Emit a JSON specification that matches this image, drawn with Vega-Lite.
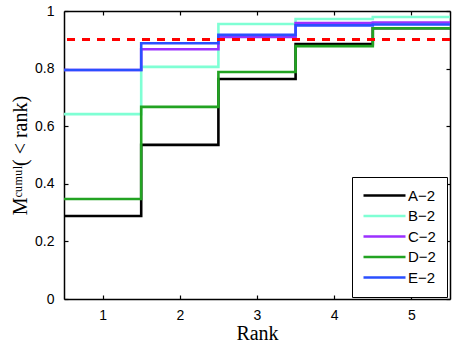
{
  "$schema": "https://vega.github.io/schema/vega-lite/v6.json",
  "autosize": {"type": "none"},
  "width": 386,
  "height": 288,
  "padding": {"left": 64, "top": 11, "right": 8, "bottom": 50},
  "background": "white",
  "config": {
    "view": {"stroke": null},
    "axis": {
      "labelFont": "Liberation Sans",
      "labelFontSize": 14,
      "labelColor": "black",
      "titleFont": "Liberation Serif",
      "titleFontSize": 20,
      "titleFontWeight": "normal",
      "titleColor": "black",
      "domainColor": "black",
      "domainWidth": 1.5,
      "tickColor": "black",
      "tickWidth": 1.2,
      "tickSize": -4,
      "grid": false
    }
  },
  "data": {
    "values": [
      {"series": "A\u22122", "edge": 0.5, "v": 0.288},
      {"series": "A\u22122", "edge": 1.5, "v": 0.535},
      {"series": "A\u22122", "edge": 2.5, "v": 0.764},
      {"series": "A\u22122", "edge": 3.5, "v": 0.885},
      {"series": "A\u22122", "edge": 4.5, "v": 0.94},
      {"series": "A\u22122", "edge": 5.5, "v": 0.94},
      {"series": "B\u22122", "edge": 0.5, "v": 0.642},
      {"series": "B\u22122", "edge": 1.5, "v": 0.806},
      {"series": "B\u22122", "edge": 2.5, "v": 0.955},
      {"series": "B\u22122", "edge": 3.5, "v": 0.972},
      {"series": "B\u22122", "edge": 4.5, "v": 0.979},
      {"series": "B\u22122", "edge": 5.5, "v": 0.979},
      {"series": "C\u22122", "edge": 0.5, "v": 0.795},
      {"series": "C\u22122", "edge": 1.5, "v": 0.867},
      {"series": "C\u22122", "edge": 2.5, "v": 0.91},
      {"series": "C\u22122", "edge": 3.5, "v": 0.958},
      {"series": "C\u22122", "edge": 4.5, "v": 0.96},
      {"series": "C\u22122", "edge": 5.5, "v": 0.96},
      {"series": "D\u22122", "edge": 0.5, "v": 0.347},
      {"series": "D\u22122", "edge": 1.5, "v": 0.667},
      {"series": "D\u22122", "edge": 2.5, "v": 0.788},
      {"series": "D\u22122", "edge": 3.5, "v": 0.878},
      {"series": "D\u22122", "edge": 4.5, "v": 0.94},
      {"series": "D\u22122", "edge": 5.5, "v": 0.94},
      {"series": "E\u22122", "edge": 0.5, "v": 0.795},
      {"series": "E\u22122", "edge": 1.5, "v": 0.888},
      {"series": "E\u22122", "edge": 2.5, "v": 0.917},
      {"series": "E\u22122", "edge": 3.5, "v": 0.95},
      {"series": "E\u22122", "edge": 4.5, "v": 0.953},
      {"series": "E\u22122", "edge": 5.5, "v": 0.953}
    ]
  },
  "layer": [
    {
      "mark": {"type": "line", "interpolate": "step-after", "strokeWidth": 2.6},
      "encoding": {
        "x": {
          "field": "edge", "type": "quantitative",
          "scale": {"domain": [0.5, 5.5], "nice": false, "zero": false},
          "axis": {"orient": "bottom", "values": [1, 2, 3, 4, 5], "format": "~g", "title": "Rank", "labelPadding": 13, "titlePadding": 1}
        },
        "y": {
          "field": "v", "type": "quantitative",
          "scale": {"domain": [0, 1], "nice": false},
          "axis": {"orient": "left", "values": [0, 0.2, 0.4, 0.6, 0.8, 1], "format": "~g", "title": "M\u1d9c\u1d58\u1d50\u1d58\u02e1( < rank)", "labelPadding": 14, "titlePadding": 4}
        },
        "color": {
          "field": "series", "type": "nominal",
          "scale": {
            "domain": ["A\u22122", "B\u22122", "C\u22122", "D\u22122", "E\u22122"],
            "range": ["#000000", "#7fffd4", "#9b30ff", "#22a322", "#2a4fff"]
          },
          "legend": {
            "title": null,
            "orient": "none",
            "legendX": 288,
            "legendY": 166,
            "symbolType": "M-5.25,0H5.25",
            "symbolSize": 64,
            "symbolOffset": 14,
            "symbolStrokeWidth": 2.5,
            "labelFont": "Liberation Sans",
            "labelFontSize": 15,
            "labelColor": "black",
            "labelOffset": 16,
            "labelExpr": "datum.label + ' '",
            "rowPadding": 4.5,
            "padding": 11,
            "strokeColor": "black",
            "fillColor": "white"
          }
        }
      }
    },
    {
      "mark": {"type": "rule", "color": "red", "strokeWidth": 2, "strokeDash": [8, 7]},
      "encoding": {"y": {"datum": 0.9, "type": "quantitative", "scale": {"domain": [0, 1], "nice": false}, "axis": null}}
    },
    {
      "mark": {"type": "point", "opacity": 0},
      "encoding": {
        "x": {
          "field": "edge", "type": "quantitative",
          "scale": {"domain": [0.5, 5.5], "nice": false, "zero": false},
          "axis": {"orient": "top", "values": [1, 2, 3, 4, 5], "labels": false, "title": null}
        },
        "y": {
          "field": "v", "type": "quantitative",
          "scale": {"domain": [0, 1], "nice": false},
          "axis": {"orient": "right", "values": [0, 0.2, 0.4, 0.6, 0.8, 1], "labels": false, "title": null}
        }
      }
    }
  ],
  "resolve": {"scale": {"x": "independent", "y": "independent"}, "axis": {"x": "independent", "y": "independent"}}
}
